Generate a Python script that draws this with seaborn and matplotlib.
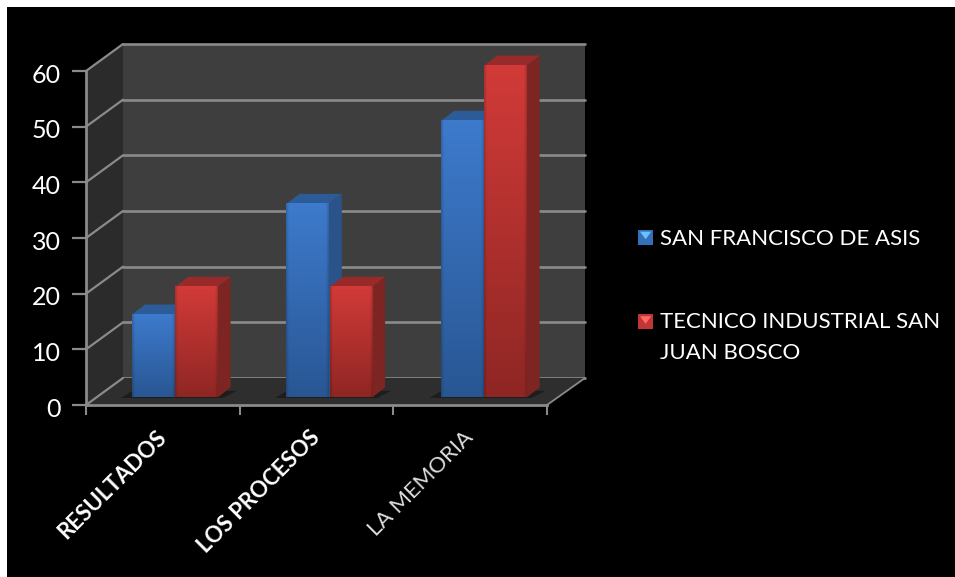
import numpy as np
import pandas as pd
import matplotlib
matplotlib.use("Agg")
import matplotlib.pyplot as plt
import seaborn as sns
from matplotlib.patches import Polygon, Rectangle, Patch
from matplotlib.lines import Line2D
from matplotlib.legend_handler import HandlerBase
from matplotlib.transforms import IdentityTransform, ScaledTranslation

categories = ["RESULTADOS", "LOS PROCESOS", "LA MEMORIA"]
series_names = ["SAN FRANCISCO DE ASIS", "TECNICO INDUSTRIAL SAN\nJUAN BOSCO"]
san_francisco = [15, 35, 50]
tecnico = [20, 20, 60]
y_ticks = [0, 10, 20, 30, 40, 50, 60]

W, H = 955, 577
GRID = "#8a8a8a"
WALL = "#3e3e3e"
SIDE = "#2b2b2b"
FLOOR = "#2e2e2e"
TEXT = "#ffffff"
COL = {series_names[0]: "#356fb8", series_names[1]: "#bf3634"}
PALE = {series_names[0]: ((0.24, 0.48, 0.80), (0.16, 0.34, 0.58)),
        series_names[1]: ((0.82, 0.23, 0.22), (0.56, 0.15, 0.14))}
SIDEC = {series_names[0]: "#2a5389", series_names[1]: "#7d2522"}
TOPC = {series_names[0]: "#2c5b98", series_names[1]: "#982b29"}

sns.set_theme(style="dark")
plt.rcParams["font.family"] = ["Lato", "DejaVu Sans"]

fig = plt.figure(figsize=(W / 100, H / 100), dpi=100, facecolor="white")


def rect(x0, ytop, x1, ybot):
    return [x0 / W, 1 - ybot / H, (x1 - x0) / W, (ybot - ytop) / H]


def px(x, y):
    return (x, H - y)


fig.add_artist(Rectangle((7 / W, 0), 1, 1 - 7 / H, transform=fig.transFigure,
                         fc="black", ec="none", zorder=-10))

# back wall
wall = fig.add_axes(rect(123, 44, 585, 378), zorder=1)
wall.set_facecolor(WALL)
wall.set_xlim(0, 1)
wall.set_ylim(0, 60)
wall.set_yticks(y_ticks)
wall.set_xticks([])
wall.tick_params(left=False, labelleft=False)
wall.grid(axis="y", color=GRID, lw=1.9)
wall.grid(axis="x", visible=False)
for s in wall.spines.values():
    s.set_visible(False)
for g in wall.get_ygridlines():
    g.set_clip_on(False)

# left wall and floor panels
disp = IdentityTransform()
fig.add_artist(Polygon([px(86, 405), px(123, 378), px(123, 44), px(86, 71)],
                       transform=disp, fc=SIDE, ec="none", zorder=0.5))
fig.add_artist(Polygon([px(86, 405), px(123, 378), px(585, 378), px(547, 405)],
                       transform=disp, fc=FLOOR, ec="none", zorder=1.5))
for v in y_ticks:
    y0 = 405 - v * (405 - 71) / 60
    y1 = 378 - v * (378 - 44) / 60
    fig.add_artist(Line2D([86, 123], [H - y0, H - y1], transform=disp, color=GRID,
                          lw=1.6, zorder=1.6))
fig.add_artist(Line2D([547, 585], [H - 405, H - 378], transform=disp, color=GRID,
                      lw=1.3, zorder=1.6))

# front axis with real ticks
front = fig.add_axes(rect(86, 71, 547, 405), zorder=2)
front.patch.set_alpha(0)
front.set_xlim(-0.5, 2.5)
front.set_ylim(0, 60)
front.set_yticks(y_ticks)
front.set_yticklabels([str(v) for v in y_ticks])
front.set_xticks(range(3))
front.set_xticklabels(categories)
front.set_xticks([-0.5, 0.5, 1.5, 2.5], minor=True)
front.grid(False)
front.tick_params(axis="y", colors=GRID, length=10, width=1.6, labelcolor=TEXT,
                  labelsize=18, pad=8, left=True)
front.tick_params(axis="x", which="major", length=0, labelcolor=TEXT, labelsize=16,
                  pad=21)
front.tick_params(axis="x", which="minor", length=7, width=1.5, color=GRID, bottom=True)
for t in front.get_yticklabels():
    t.set_transform(t.get_transform() + ScaledTranslation(0, -1.5 / 72, fig.dpi_scale_trans))
for s in ("top", "right"):
    front.spines[s].set_visible(False)
for s in ("left", "bottom"):
    front.spines[s].set_color(GRID)
    front.spines[s].set_linewidth(2)
for i, t in enumerate(front.get_xticklabels()):
    t.set_rotation(45)
    t.set_ha("right")
    t.set_va("center")
    t.set_rotation_mode("anchor")
    t.set_color("white")
    if i < 2:
        t.set_fontweight("bold")
    else:
        t.set_fontweight("normal")
        t.set_color("#dddddd")

# bars
bars = fig.add_axes(rect(97.5, 65.5, 561, 397.5), zorder=3)
bars.patch.set_alpha(0)
df = pd.DataFrame({
    "categoria": categories * 2,
    "colegio": [series_names[0]] * 3 + [series_names[1]] * 3,
    "valor": san_francisco + tecnico,
})
sns.barplot(data=df, x="categoria", y="valor", hue="colegio", hue_order=series_names,
            palette=COL, width=0.56, legend=False, ax=bars, saturation=1, zorder=3)
bars.set_xlim(-0.5, 2.5)
bars.set_ylim(0, 60)
bars.axis("off")

DX = 13 / (461 / 3)
DY = 10 / (332 / 60)
SHX = 5 / (461 / 3)
n_cat = len(categories)
for idx, p in enumerate(bars.patches):
    name = series_names[idx // n_cat]
    x, w, h = p.get_x(), p.get_width(), p.get_height()
    p.set_visible(False)
    x0, x1 = x + 0.003, x + w - 0.003
    # floor shadow
    if idx >= n_cat:
        left = bars.patches[idx - n_cat].get_x()
        bars.add_patch(Polygon([(left - SHX * 2.2, -0.1), (left, 1.1), (x1 + DX + SHX * 1.2, DY - 0.6),
                                (x1 + SHX, -0.1)], fc="#1d1d1d", ec="none", zorder=1,
                               clip_on=False))
    bars.add_patch(Polygon([(x1, 0), (x1 + DX, DY), (x1 + DX, h + DY), (x1, h)],
                           fc=SIDEC[name], ec="none", zorder=2, clip_on=False))
    bars.add_patch(Polygon([(x0, h), (x0 + DX, h + DY), (x1 + DX, h + DY), (x1, h)],
                           fc=TOPC[name], ec="none", zorder=2, clip_on=False))

for idx, p in enumerate(bars.patches[:2 * n_cat]):
    name = series_names[idx // n_cat]
    x, w, h = p.get_x(), p.get_width(), p.get_height()
    x0, x1 = x + 0.003, x + w - 0.003
    top, bot = np.array(PALE[name][0]), np.array(PALE[name][1])
    ny, nx = 60, 40
    ramp = np.linspace(0, 1, ny)[:, None, None]
    img = top[None, None, :] * (1 - ramp) + bot[None, None, :] * ramp
    img = np.repeat(img, nx, axis=1)
    u = np.linspace(0, 1, nx)
    edge = 1 - 0.16 * np.clip(1 - np.minimum(u, 1 - u) / 0.06, 0, 1)
    img = np.clip(img * edge[None, :, None], 0, 1)
    bars.imshow(img, extent=(x0, x1, 0, h), aspect="auto", origin="upper", zorder=4,
                interpolation="bilinear", clip_on=False)
bars.set_xlim(-0.5, 2.5)
bars.set_ylim(0, 60)
bars.set_aspect("auto")


# legend
class BevelHandler(HandlerBase):
    def create_artists(self, legend, orig, xd, yd, width, height, fontsize, trans):
        c = orig.get_facecolor()
        s = 11
        x0 = -xd
        y0 = -yd + height / 2 - s / 2
        if "\n" in orig.get_label():
            y0 += 11.5
        base = Rectangle((x0, y0), s, s, fc=c, ec="none", transform=trans)
        light = tuple(min(1, v * 1.55 + 0.08) for v in c[:3])
        tri = Polygon([(x0 + 1.5, y0 + s - 1.5), (x0 + s - 1.5, y0 + s - 1.5), (x0 + s / 2, y0 + 4)],
                      fc=light, ec="none", transform=trans)
        return [base, tri]


handles = [Patch(fc=COL[n], label=n) for n in series_names]
leg = fig.legend(handles, series_names, handler_map={Patch: BevelHandler()},
                 loc="upper left", bbox_to_anchor=(638 / W, 1 - 229 / H), frameon=False,
                 labelcolor=TEXT, handlelength=1.0, handletextpad=0.0,
                 labelspacing=2.85, borderpad=0, borderaxespad=0, alignment="left",
                 prop={"size": 16})
for t in leg.get_texts():
    t.set_linespacing(1.65)

fig.savefig("out.png", dpi=100, facecolor=fig.get_facecolor())
